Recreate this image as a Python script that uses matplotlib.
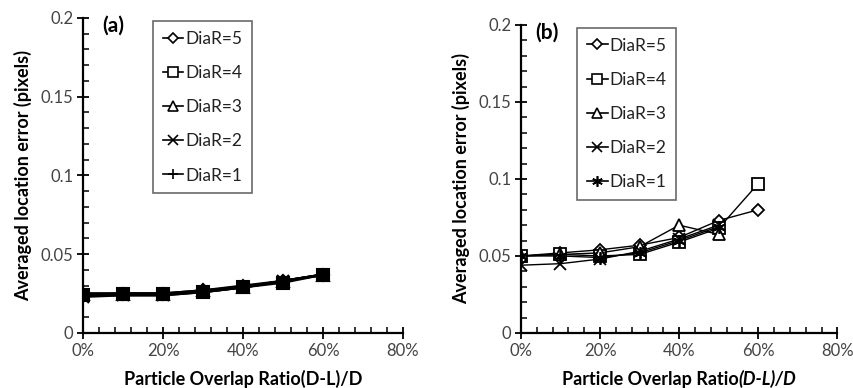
import matplotlib
matplotlib.use("Agg")
import matplotlib.pyplot as plt
from matplotlib.ticker import MultipleLocator
from matplotlib.lines import Line2D

plt.rcParams['font.family'] = ['Lato', 'DejaVu Sans']

overlap = [0, 10, 20, 30, 40, 50, 60]
series_labels = ["DiaR=5", "DiaR=4", "DiaR=3", "DiaR=2", "DiaR=1"]

# panel (a)
a_d5 = [0.025, 0.025, 0.025, 0.027, 0.030, 0.033, 0.037]
a_d4 = [0.024, 0.025, 0.025, 0.026, 0.029, 0.032, 0.037]
a_d3 = [0.025, 0.025, 0.025, 0.027, 0.029, 0.033, 0.037]
a_d2 = [0.023, 0.024, 0.024, 0.026, 0.029, 0.033, 0.037]
a_d1 = [0.024, 0.024, 0.024, 0.026, 0.029, 0.033, 0.037]

# panel (b)
b_d5 = [0.050, 0.052, 0.054, 0.057, 0.062, 0.073, 0.080]
b_d4 = [0.050, 0.051, 0.050, 0.051, 0.059, 0.068, 0.097]
b_d3 = [0.050, 0.051, 0.052, 0.056, 0.070, 0.064]
b_d2 = [0.044, 0.045, 0.048, 0.053, 0.061, 0.070]
b_d1 = [0.050, 0.050, 0.049, 0.052, 0.060, 0.069]

y_ticks = [0, 0.05, 0.1, 0.15, 0.2]
y_tick_labels = ["0", "0.05", "0.1", "0.15", "0.2"]
x_ticks = [0, 20, 40, 60, 80]
x_tick_labels = ["0%", "20%", "40%", "60%", "80%"]

fig = plt.figure(figsize=(8.54, 3.88), dpi=100)
ax_a = fig.add_axes([0.0972, 0.1418, 0.3747, 0.812])
ax_b = fig.add_axes([0.610, 0.1418, 0.3705, 0.794])

markers_a = ['D', 's', '^', 'x', '+']
markers_b = ['D', 's', '^', 'x', (6, 2, 0)]
sizes = [6, 8, 8, 8, 9]

def style(ax, tag, tag_x):
    for s in ['top', 'right']:
        ax.spines[s].set_visible(False)
    for s in ['left', 'bottom']:
        ax.spines[s].set_linewidth(1.6)
    ax.set_xlim(0, 80)
    ax.set_ylim(0, 0.2)
    ax.set_xticks(x_ticks)
    ax.set_xticklabels(x_tick_labels)
    ax.set_yticks(y_ticks)
    ax.set_yticklabels(y_tick_labels)
    ax.xaxis.set_minor_locator(MultipleLocator(4))
    ax.yaxis.set_minor_locator(MultipleLocator(0.01))
    ax.tick_params(which='major', direction='inout', length=8, width=1.3,
                   labelsize=12, labelcolor='#444444', pad=3)
    ax.tick_params(which='minor', direction='in', length=4, width=1.1)
    ax.set_ylabel("Averaged location error (pixels)", fontsize=13,
                  fontweight='bold', labelpad=6)
    ax.text(tag_x, 0.975, tag, transform=ax.transAxes, fontsize=15,
            fontweight='bold', va='center', ha='left')

series_a = [a_d5, a_d4, a_d3, a_d2, a_d1]
for vals, m, ms, lab in zip(series_a, markers_a, sizes, series_labels):
    ax_a.plot(overlap[:len(vals)], vals, color='black', lw=1.8, marker=m,
              ms=ms, mfc='black', mec='black', mew=1.5, label=lab)

series_b = [b_d5, b_d4, b_d3, b_d2, b_d1]
for vals, m, ms, lab in zip(series_b, markers_b, sizes, series_labels):
    ax_b.plot(overlap[:len(vals)], vals, color='black', lw=1.0, marker=m,
              ms=ms, mfc='white', mec='black', mew=1.3, label=lab)

style(ax_a, "(a)", 0.06)
style(ax_b, "(b)", 0.045)

def make_legend(ax, markers, loc_x, loc_y):
    handles = [Line2D([], [], color='black', lw=1.2, marker=m, ms=ms * 0.85,
                      mfc='white', mec='black', mew=1.2)
               for m, ms in zip(markers, sizes)]
    leg = ax.legend(handles, series_labels, loc='upper left',
                    bbox_to_anchor=(loc_x, loc_y), frameon=True, fontsize=12.5,
                    handlelength=1.2, handletextpad=0.1, labelspacing=1.05,
                    borderpad=0.55, fancybox=False, borderaxespad=0)
    leg.get_frame().set_edgecolor('#444444')
    leg.get_frame().set_linewidth(1.2)
    for t in leg.get_texts():
        t.set_color('#222222')

make_legend(ax_a, markers_a, 0.219, 0.99)
make_legend(ax_b, markers_b, 0.178, 0.99)

# x labels
ax_a.set_xlabel("Particle Overlap Ratio(D-L)/D", fontsize=13, fontweight='bold',
                labelpad=8)

ax_b.set_xlabel(" ", fontsize=13, labelpad=8)
fig.canvas.draw()
renderer = fig.canvas.get_renderer()
bb = ax_a.xaxis.label.get_window_extent(renderer)
base_y = bb.y0
cx = (ax_b.get_position().x0 + ax_b.get_position().x1) / 2
t1 = fig.text(0, 0, "Particle Overlap Ratio", fontsize=13, fontweight='bold',
              va='baseline', ha='left')
t2 = fig.text(0, 0, "(D-L)/D", fontsize=13, fontweight='bold',
              style='italic', va='baseline', ha='left')
tmp = fig.text(0, 0.5, "Particle Overlap Ratio(D-L)/D", fontsize=13,
               fontweight='bold', va='baseline')
tmp_bb = tmp.get_window_extent(renderer)
descent = 0.5 * fig.bbox.height - tmp_bb.y0
tmp.set_visible(False)
yb = (base_y + descent) / fig.bbox.height
t1.set_y(yb)
t2.set_y(yb)
w1 = t1.get_window_extent(renderer).width / fig.bbox.width
w2 = t2.get_window_extent(renderer).width / fig.bbox.width
start = cx - (w1 + w2) / 2
t1.set_x(start)
t2.set_x(start + w1)

fig.savefig("out.png", dpi=100)
